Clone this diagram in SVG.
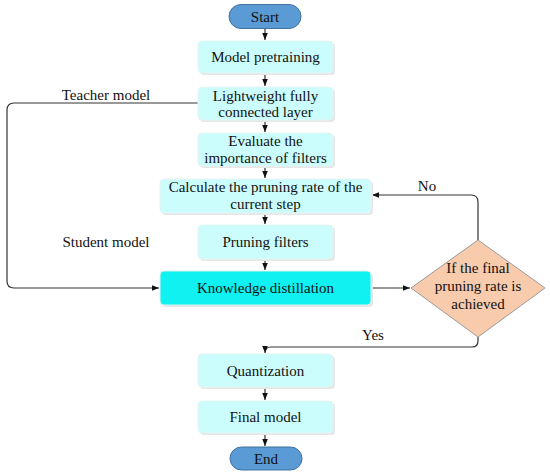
<svg xmlns="http://www.w3.org/2000/svg" width="550" height="475" viewBox="0 0 550 475">
<style>
.box{fill:#ccfdfd;stroke:#e4f4f4;stroke-width:1}
.kd{fill:#10f2f2;stroke:#d8f0f0;stroke-width:1}
.term{fill:#5b9bd5;stroke:#41719c;stroke-width:1}
.dia{fill:#f8cbad;stroke:#9a9a9a;stroke-width:1}
.sh{fill:#e6e6e6}
text{font-family:"Liberation Serif","Times New Roman",serif;font-size:15px;fill:#111;text-anchor:middle}
.ln{fill:none;stroke:#333;stroke-width:1.2}
</style>
<defs>
<marker id="ah" viewBox="0 0 10 10" refX="10" refY="5" markerWidth="7" markerHeight="7" orient="auto" markerUnits="userSpaceOnUse">
<path d="M0,1 L10,5 L0,9 z" fill="#111"/>
</marker>
</defs>
<g id="connectors">
<line class="ln" x1="265" y1="28" x2="265" y2="40" marker-end="url(#ah)"/>
<line class="ln" x1="265" y1="73" x2="265" y2="86" marker-end="url(#ah)"/>
<line class="ln" x1="265" y1="120" x2="265" y2="132" marker-end="url(#ah)"/>
<line class="ln" x1="265" y1="167" x2="265" y2="178" marker-end="url(#ah)"/>
<line class="ln" x1="265" y1="213" x2="265" y2="224" marker-end="url(#ah)"/>
<line class="ln" x1="265" y1="259" x2="265" y2="270" marker-end="url(#ah)"/>
<line class="ln" x1="371" y1="288" x2="410" y2="288" marker-end="url(#ah)"/>
<path class="ln" d="M478,240 V202 Q478,195 471,195 H372" marker-end="url(#ah)"/>
<path class="ln" d="M478,337 V341 Q478,347 472,347 H271 Q265,347 265,353" marker-end="url(#ah)"/>
<path class="ln" d="M198,103 H14 Q7,103 7,110 V281 Q7,288 14,288 H159" marker-end="url(#ah)"/>
<line class="ln" x1="265" y1="387" x2="265" y2="400" marker-end="url(#ah)"/>
<line class="ln" x1="265" y1="433" x2="265" y2="446" marker-end="url(#ah)"/>
</g>
<g id="start">
<rect class="term" x="229" y="4.5" width="72" height="24" rx="12"/>
<text x="265" y="22">Start</text>
</g>
<g id="pretrain">
<rect class="sh" x="200" y="43" width="135" height="32" rx="4"/>
<rect class="box" x="198" y="41" width="135" height="32" rx="4"/>
<text x="265.5" y="62">Model pretraining</text>
</g>
<g id="lightweight">
<rect class="sh" x="200" y="89" width="135" height="33" rx="4"/>
<rect class="box" x="198" y="87" width="135" height="33" rx="4"/>
<text x="265.5" y="101">Lightweight fully</text>
<text x="265.5" y="117">connected layer</text>
</g>
<g id="evaluate">
<rect class="sh" x="200" y="135" width="135" height="33" rx="4"/>
<rect class="box" x="198" y="133" width="135" height="33" rx="4"/>
<text x="265.5" y="146">Evaluate the</text>
<text x="265.5" y="163">importance of filters</text>
</g>
<g id="calculate">
<rect class="sh" x="162" y="181" width="211" height="34" rx="4"/>
<rect class="box" x="160" y="179" width="211" height="34" rx="4"/>
<text x="265.5" y="192">Calculate the pruning rate of the</text>
<text x="265.5" y="209">current step</text>
</g>
<g id="pruning">
<rect class="sh" x="200" y="227" width="135" height="34" rx="4"/>
<rect class="box" x="198" y="225" width="135" height="34" rx="4"/>
<text x="265.5" y="247">Pruning filters</text>
</g>
<g id="distill">
<rect class="sh" x="162" y="273" width="211" height="34" rx="4"/>
<rect class="kd" x="160" y="271" width="211" height="34" rx="4"/>
<text x="265.5" y="293">Knowledge distillation</text>
</g>
<g id="decision">
<polygon class="dia" points="478,240 545,288 478,337 411,288"/>
<text x="478" y="273">If the final</text>
<text x="478" y="291">pruning rate is</text>
<text x="478" y="309">achieved</text>
</g>
<g id="quant">
<rect class="sh" x="200" y="356" width="135" height="33" rx="4"/>
<rect class="box" x="198" y="354" width="135" height="33" rx="4"/>
<text x="265.5" y="376">Quantization</text>
</g>
<g id="final">
<rect class="sh" x="200" y="403" width="135" height="32" rx="4"/>
<rect class="box" x="198" y="401" width="135" height="32" rx="4"/>
<text x="265.5" y="422">Final model</text>
</g>
<g id="end">
<rect class="term" x="230" y="447" width="72" height="23" rx="11.5"/>
<text x="266" y="464">End</text>
</g>
<g id="labels">
<text x="106" y="100">Teacher model</text>
<text x="106" y="247">Student model</text>
<text x="427" y="191">No</text>
<text x="373" y="340">Yes</text>
</g>
</svg>
